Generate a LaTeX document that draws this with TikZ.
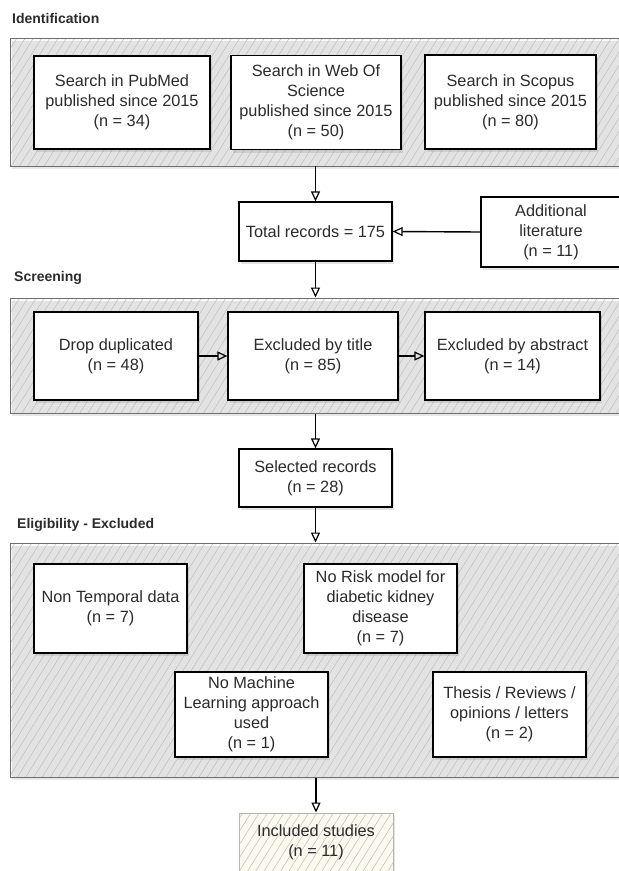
\documentclass[tikz,border=0pt]{standalone}
\usepackage{fontspec}
\setmainfont{Liberation Sans}
\usetikzlibrary{arrows.meta,patterns.meta,shadows,positioning}
\definecolor{grpline}{HTML}{6E6E6E}
\definecolor{grpfill}{HTML}{FAFAFA}
\definecolor{hatch}{HTML}{BDBDBD}
\definecolor{incline}{HTML}{D6B656}
\definecolor{incfill}{HTML}{FCF9EE}
\definecolor{txt}{HTML}{2B2B2B}
\tikzset{
  grp/.style={draw=grpline, line width=1pt, inner sep=0pt,
    preaction={fill=grpfill},
    pattern={Lines[angle=58,distance=7pt,line width=0.5pt]}, pattern color=hatch,
    drop shadow={shadow xshift=2pt,shadow yshift=-3pt,opacity=0.18}},
  box/.style={draw=black, line width=1.3pt, fill=white, inner sep=0pt, align=center,
    text=txt, font=\fontsize{16.3}{20}\selectfont,
    drop shadow={shadow xshift=2pt,shadow yshift=-3pt,opacity=0.22}},
  incbox/.style={box, draw=incline, line width=1pt,
    preaction={fill=incfill},
    pattern={Lines[angle=58,distance=7pt,line width=0.5pt]}, pattern color=hatch},
  lbl/.style={anchor=west, font=\bfseries\fontsize{14}{16}\selectfont, text=txt, inner sep=0pt},
  arr/.style={line width=1.4pt, draw=black, -{Triangle[open,length=10pt,width=9pt,line width=1.2pt]}}
}
\begin{document}
\begin{tikzpicture}[x=1pt,y=-1pt]
\useasboundingbox (0,0) rectangle (619,871);
% labels
\node[lbl] (l1) at (12,18) {Identification};
\node[lbl] (l2) at (14,278) {Screening};
\node[lbl] (l3) at (17,525) {Eligibility - Excluded};
% groups
\node[grp, minimum width=615pt, minimum height=128pt] (g1) at (317.5,102) {};
\node[grp, minimum width=615pt, minimum height=115pt] (g2) at (317.5,355.5) {};
\node[grp, minimum width=615pt, minimum height=234pt] (g3) at (317.5,660) {};
% identification
\node[box, minimum width=176pt, minimum height=93pt] (pub) at (122,102.5) {Search in PubMed\\published since 2015\\(n = 34)};
\node[box, minimum width=170pt, minimum height=94pt] (wos) at (316,102.5) {Search in Web Of\\Science\\published since 2015\\(n = 50)};
\node[box, minimum width=171pt, minimum height=94pt] (sco) at (510.5,102) {Search in Scopus\\published since 2015\\(n = 80)};
\node[box, minimum width=153pt, minimum height=59pt] (tot) at (315.5,231.5) {Total records = 175};
\node[box, minimum width=140pt, minimum height=70pt] (add) at (551,232) {Additional\\literature\\(n = 11)};
% screening
\node[box, minimum width=164pt, minimum height=88pt] (dup) at (116,356) {Drop duplicated\\(n = 48)};
\node[box, minimum width=170pt, minimum height=88pt] (tit) at (313,356) {Excluded by title\\(n = 85)};
\node[box, minimum width=175pt, minimum height=88pt] (abs) at (512.5,356) {Excluded by abstract\\(n = 14)};
\node[box, minimum width=153pt, minimum height=58pt] (sel) at (315.5,478) {Selected records\\(n = 28)};
% eligibility
\node[box, minimum width=153pt, minimum height=89pt] (nt) at (110.5,608.5) {Non Temporal data\\(n = 7)};
\node[box, minimum width=153pt, minimum height=89pt] (nr) at (380.5,608.5) {No Risk model for\\diabetic kidney\\disease\\(n = 7)};
\node[box, minimum width=153pt, minimum height=85pt] (nm) at (251.5,714.5) {No Machine\\Learning approach\\used\\(n = 1)};
\node[box, minimum width=153pt, minimum height=85pt] (th) at (509.5,714.5) {Thesis / Reviews /\\opinions / letters\\(n = 2)};
\node[incbox, minimum width=154pt, minimum height=58pt] (inc) at (316,842) {Included studies\\(n = 11)};
% connectors
\draw[arr] (tot.north |- g1.south) -- (tot.north);
\draw[arr] (add.west) -- (tot.east);
\draw[arr] (tot.south) -- (tot.south |- g2.north);
\draw[arr] (dup.east) -- (tit.west);
\draw[arr] (tit.east) -- (abs.west);
\draw[arr] (sel.north |- g2.south) -- (sel.north);
\draw[arr] (sel.south) -- (sel.south |- g3.north);
\draw[arr] (inc.north |- g3.south) -- (inc.north);
\end{tikzpicture}
\end{document}
